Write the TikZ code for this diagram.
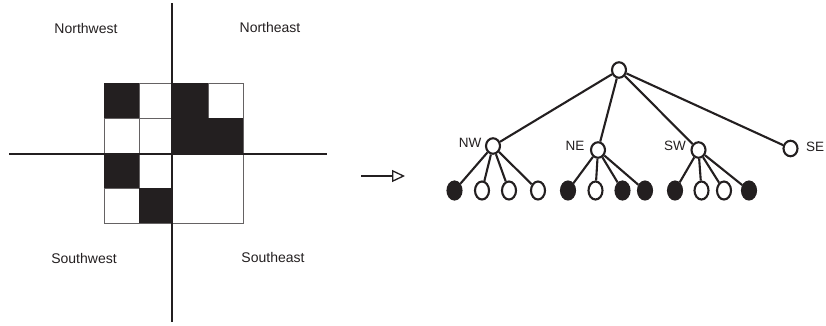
\documentclass[tikz,border=0pt]{standalone}
\usepackage{fontspec}
\setmainfont{Liberation Sans}
\usetikzlibrary{shapes.geometric,arrows.meta}
\definecolor{ink}{HTML}{231F20}
\begin{document}
\begin{tikzpicture}[x=1pt,y=-1pt,
  quadlabel/.style={font=\fontsize{14}{16}\selectfont, text=ink, inner sep=0pt},
  treelabel/.style={font=\fontsize{13.5}{15}\selectfont, text=ink, inner sep=0pt},
  cellline/.style={draw=ink!70, line width=1pt},
  darkcell/.style={fill=ink},
  axis/.style={draw=ink, line width=2.5pt},
  inner/.style={ellipse, draw=ink, line width=2.1pt, fill=white,
    minimum width=14pt, minimum height=15.5pt, inner sep=0pt},
  leaf/.style={ellipse, draw=ink, line width=2.1pt, fill=white,
    minimum width=14pt, minimum height=18pt, inner sep=0pt},
  fullleaf/.style={leaf, fill=ink},
  edge/.style={draw=ink, line width=2.1pt},
  mapsto/.style={draw=ink, line width=2pt,
    -{Triangle[open, length=13pt, width=12pt, line width=1.3pt]}},
]
\useasboundingbox (0,0) rectangle (826,325);

% ---- quadtree image: cell outlines ----
\draw[cellline] (104,83) rectangle (243,223);
\draw[cellline] (139,83) -- (139,223);
\draw[cellline] (104,118) -- (243,118);
\draw[cellline] (104,188) -- (172,188);
\draw[cellline] (208,83) -- (208,154);
% dark cells
\fill[darkcell] (104,83) rectangle (139,118);
\fill[darkcell] (172,83) rectangle (208,118);
\fill[darkcell] (172,118) rectangle (243,154);
\fill[darkcell] (104,154) rectangle (139,188);
\fill[darkcell] (139,188) rectangle (172,223);

% ---- axes ----
\draw[axis] (172,3) -- (172,322);
\draw[axis] (9,154) -- (327,154);

% ---- quadrant names ----
\node[quadlabel] (lnw) at (86,28) {Northwest};
\node[quadlabel] (lne) at (270,27) {Northeast};
\node[quadlabel] (lsw) at (84,258) {Southwest};
\node[quadlabel] (lse) at (273,257) {Southeast};

% ---- mapping arrow ----
\coordinate (arrowfrom) at (361,176);
\coordinate (arrowto) at (405,176);
\draw[mapsto] (arrowfrom) -- (arrowto);

% ---- quadtree ----
\node[inner] (root) at (619,70) {};
\node[inner] (nw) at (493,146) {};
\node[inner] (ne) at (598,150) {};
\node[inner] (sw) at (698.5,150) {};
\node[inner] (se) at (790.5,148.5) {};

\node[treelabel] (tnw) at (470,143) {NW};
\node[treelabel] (tne) at (575,146) {NE};
\node[treelabel] (tsw) at (675,146) {SW};
\node[treelabel] (tse) at (815,147) {SE};

% leaves of NW
\node[fullleaf] (nw1) at (454.5,190.5) {};
\node[leaf]     (nw2) at (482,190.5) {};
\node[leaf]     (nw3) at (509,190.5) {};
\node[leaf]     (nw4) at (538,190.5) {};
% leaves of NE
\node[fullleaf] (ne1) at (568,190.5) {};
\node[leaf]     (ne2) at (595.5,190.5) {};
\node[fullleaf] (ne3) at (622.5,190.5) {};
\node[fullleaf] (ne4) at (645,190.5) {};
% leaves of SW
\node[fullleaf] (sw1) at (675,190.5) {};
\node[leaf]     (sw2) at (701.5,190.5) {};
\node[leaf]     (sw3) at (724,190.5) {};
\node[fullleaf] (sw4) at (749,190.5) {};

\foreach \c in {nw,ne,sw,se} \draw[edge] (root) -- (\c);
\foreach \p in {nw,ne,sw} {
  \foreach \i in {1,2,3,4} \draw[edge] (\p) -- (\p\i);
}
\end{tikzpicture}
\end{document}
